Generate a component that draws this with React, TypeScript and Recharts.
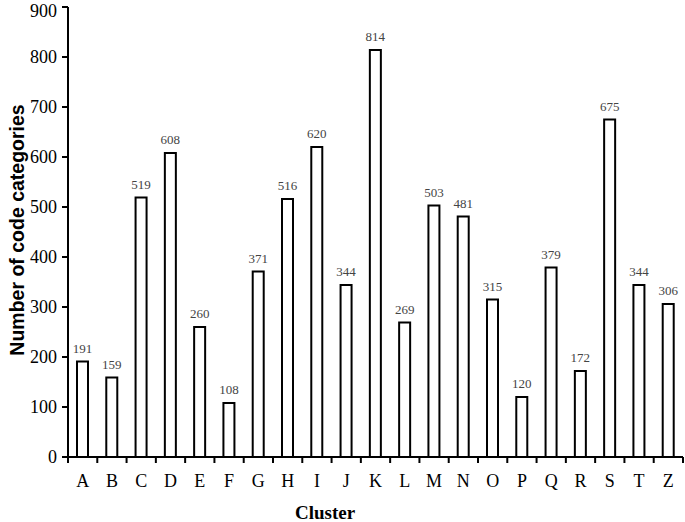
import React from "react";
import { BarChart, Bar, XAxis, YAxis } from "recharts";

const clusters = ["A", "B", "C", "D", "E", "F", "G", "H", "I", "J", "K", "L", "M", "N", "O", "P", "Q", "R", "S", "T", "Z"];
const counts = [191, 159, 519, 608, 260, 108, 371, 516, 620, 344, 814, 269, 503, 481, 315, 120, 379, 172, 675, 344, 306];
const yTicks = [0, 100, 200, 300, 400, 500, 600, 700, 800, 900];

const W = 685;
const H = 522;
const LEFT = 68;
const RIGHT = 2;
const TOP = 7;
const BOTTOM = 457;
const BAND = (W - LEFT - RIGHT) / clusters.length;
const SERIF = "'Liberation Serif', 'Times New Roman', serif";
const SANS = "'Liberation Sans', Arial, sans-serif";

const data = clusters.map((c, i) => ({ name: c, value: counts[i] }));

const XTick = (props: any) => {
  const { x, payload, index } = props;
  const last = index === clusters.length - 1;
  return (
    <g>
      <line x1={x - BAND / 2} x2={x - BAND / 2} y1={BOTTOM} y2={BOTTOM + 6} stroke="#000" strokeWidth={2} />
      {last && <line x1={x + BAND / 2} x2={x + BAND / 2} y1={BOTTOM} y2={BOTTOM + 6} stroke="#000" strokeWidth={2} />}
      <text x={x} y={487} textAnchor="middle" fontSize={18} fontFamily={SERIF} fill="#000">
        {payload.value}
      </text>
    </g>
  );
};

const YTitle = () => (
  <text
    x={24}
    y={230}
    transform="rotate(-90 24 230)"
    textAnchor="middle"
    fontSize={19.5}
    fontWeight="bold"
    fontFamily={SANS}
    fill="#000"
  >
    Number of code categories
  </text>
);

const XTitle = () => (
  <text x={325} y={519} textAnchor="middle" fontSize={19} fontWeight="bold" fontFamily={SERIF} fill="#000">
    Cluster
  </text>
);

export default function App() {
  return (
    <div style={{ position: "absolute", left: 0, top: 0, width: W, height: H, background: "#fff" }}>
      <BarChart width={W} height={H} data={data} margin={{ top: TOP, right: RIGHT, left: 0, bottom: 15 }} barSize={11}>
        <XAxis
          dataKey="name"
          height={H - BOTTOM - 15}
          tickLine={false}
          axisLine={{ stroke: "#000", strokeWidth: 2 }}
          tick={<XTick />}
          interval={0}
          label={{ content: () => <XTitle /> }}
        />
        <YAxis
          width={LEFT}
          domain={[0, 900]}
          ticks={yTicks}
          tickSize={6}
          tickMargin={5}
          axisLine={{ stroke: "#000", strokeWidth: 2 }}
          tickLine={{ stroke: "#000", strokeWidth: 2 }}
          tick={{ fontSize: 18, fontFamily: SERIF, fill: "#000" }}
          label={{ content: () => <YTitle /> }}
        />
        <Bar
          dataKey="value"
          fill="#fff"
          stroke="#000"
          strokeWidth={2}
          isAnimationActive={false}
          label={{ position: "top", offset: 9, fontSize: 13, fontFamily: SERIF, fill: "#444", stroke: "none" }}
        />
      </BarChart>
    </div>
  );
}
